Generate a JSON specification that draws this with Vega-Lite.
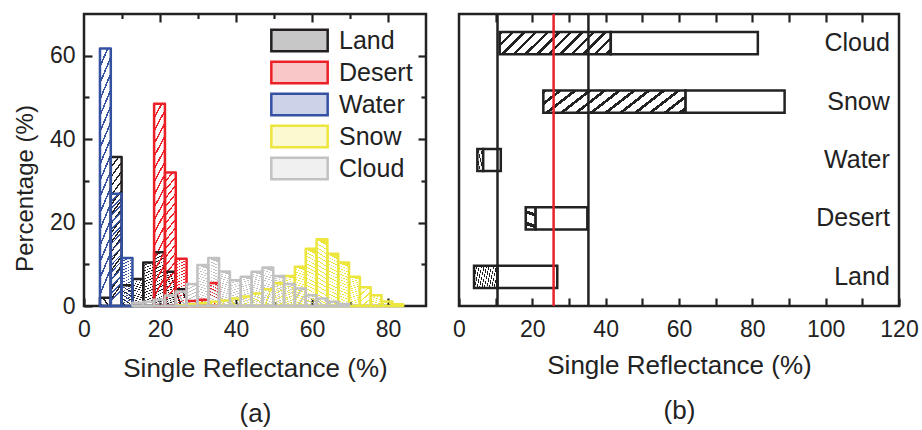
{
 "$schema": "https://vega.github.io/schema/vega-lite/v6.json",
 "background": "white",
 "padding": {"left": 12, "top": 11, "right": 2, "bottom": 2},
 "config": {
  "font": "Liberation Sans",
  "view": {"stroke": "#222222", "strokeWidth": 2.5},
  "axis": {"domain": false, "grid": false, "labelFont": "Liberation Sans", "labelFontSize": 23, "labelColor": "#222222", "titleFont": "Liberation Sans", "titleFontSize": 26, "titleFontWeight": "normal", "titleColor": "#222222", "tickColor": "#222222", "tickWidth": 2.2, "labelFlush": false, "labelOverlap": false}
 },
 "datasets": {
  "hist": [
   {"series": "Land", "x0": 4.2, "x1": 7.05, "pct": 2},
   {"series": "Land", "x0": 7.05, "x1": 9.9, "pct": 35.7},
   {"series": "Land", "x0": 9.9, "x1": 12.75, "pct": 5},
   {"series": "Land", "x0": 12.75, "x1": 15.6, "pct": 6.5},
   {"series": "Land", "x0": 15.6, "x1": 18.45, "pct": 10.4},
   {"series": "Land", "x0": 18.45, "x1": 21.3, "pct": 12.9},
   {"series": "Land", "x0": 21.3, "x1": 24.15, "pct": 8.2},
   {"series": "Land", "x0": 24.15, "x1": 27.0, "pct": 4},
   {"series": "Desert", "x0": 18.45, "x1": 21.3, "pct": 48.5},
   {"series": "Desert", "x0": 21.3, "x1": 24.15, "pct": 32},
   {"series": "Desert", "x0": 24.15, "x1": 27.0, "pct": 11.3},
   {"series": "Desert", "x0": 27.0, "x1": 29.85, "pct": 1.2},
   {"series": "Desert", "x0": 29.85, "x1": 32.7, "pct": 1.5},
   {"series": "Desert", "x0": 32.7, "x1": 35.55, "pct": 5.5},
   {"series": "Water", "x0": 4.2, "x1": 7.05, "pct": 61.7},
   {"series": "Water", "x0": 7.05, "x1": 9.9, "pct": 26.9},
   {"series": "Water", "x0": 9.9, "x1": 12.75, "pct": 11.5},
   {"series": "Snow", "x0": 24.15, "x1": 27.0, "pct": 0.2},
   {"series": "Snow", "x0": 27.0, "x1": 29.85, "pct": 0.4},
   {"series": "Snow", "x0": 29.85, "x1": 32.7, "pct": 0.7},
   {"series": "Snow", "x0": 32.7, "x1": 35.55, "pct": 1.0},
   {"series": "Snow", "x0": 35.55, "x1": 38.4, "pct": 1.3},
   {"series": "Snow", "x0": 38.4, "x1": 41.25, "pct": 1.8},
   {"series": "Snow", "x0": 41.25, "x1": 44.1, "pct": 2.3},
   {"series": "Snow", "x0": 44.1, "x1": 46.95, "pct": 3.0},
   {"series": "Snow", "x0": 46.95, "x1": 49.8, "pct": 4.0},
   {"series": "Snow", "x0": 49.8, "x1": 52.65, "pct": 5.5},
   {"series": "Snow", "x0": 52.65, "x1": 55.5, "pct": 7.2},
   {"series": "Snow", "x0": 55.5, "x1": 58.35, "pct": 9.4},
   {"series": "Snow", "x0": 58.35, "x1": 61.2, "pct": 13.7},
   {"series": "Snow", "x0": 61.2, "x1": 64.05, "pct": 16.0},
   {"series": "Snow", "x0": 64.05, "x1": 66.9, "pct": 12.5},
   {"series": "Snow", "x0": 66.9, "x1": 69.75, "pct": 10.4},
   {"series": "Snow", "x0": 69.75, "x1": 72.6, "pct": 7.0},
   {"series": "Snow", "x0": 72.6, "x1": 75.45, "pct": 4.5},
   {"series": "Snow", "x0": 75.45, "x1": 78.3, "pct": 2.6},
   {"series": "Snow", "x0": 78.3, "x1": 81.15, "pct": 1.1},
   {"series": "Snow", "x0": 81.15, "x1": 84.0, "pct": 0.4},
   {"series": "Cloud", "x0": 12.75, "x1": 15.6, "pct": 0.8},
   {"series": "Cloud", "x0": 15.6, "x1": 18.45, "pct": 1.0},
   {"series": "Cloud", "x0": 18.45, "x1": 21.3, "pct": 1.5},
   {"series": "Cloud", "x0": 21.3, "x1": 24.15, "pct": 2.5},
   {"series": "Cloud", "x0": 24.15, "x1": 27.0, "pct": 3.5},
   {"series": "Cloud", "x0": 27.0, "x1": 29.85, "pct": 5.3},
   {"series": "Cloud", "x0": 29.85, "x1": 32.7, "pct": 9.8},
   {"series": "Cloud", "x0": 32.7, "x1": 35.55, "pct": 11.5},
   {"series": "Cloud", "x0": 35.55, "x1": 38.4, "pct": 8.3},
   {"series": "Cloud", "x0": 38.4, "x1": 41.25, "pct": 6.2},
   {"series": "Cloud", "x0": 41.25, "x1": 44.1, "pct": 7.0},
   {"series": "Cloud", "x0": 44.1, "x1": 46.95, "pct": 8.2},
   {"series": "Cloud", "x0": 46.95, "x1": 49.8, "pct": 9.2},
   {"series": "Cloud", "x0": 49.8, "x1": 52.65, "pct": 7.2},
   {"series": "Cloud", "x0": 52.65, "x1": 55.5, "pct": 5.3},
   {"series": "Cloud", "x0": 55.5, "x1": 58.35, "pct": 4.2},
   {"series": "Cloud", "x0": 58.35, "x1": 61.2, "pct": 2.6},
   {"series": "Cloud", "x0": 61.2, "x1": 64.05, "pct": 1.8},
   {"series": "Cloud", "x0": 64.05, "x1": 66.9, "pct": 1.0},
   {"series": "Cloud", "x0": 66.9, "x1": 69.75, "pct": 0.5}
  ],
  "ranges": [
   {"cat": "Cloud", "part": "hatched", "lo": 11.1, "hi": 41.4},
   {"cat": "Cloud", "part": "open", "lo": 41.4, "hi": 81.5},
   {"cat": "Snow", "part": "hatched", "lo": 23.0, "hi": 61.8},
   {"cat": "Snow", "part": "open", "lo": 61.8, "hi": 88.8},
   {"cat": "Water", "part": "hatched", "lo": 5.0, "hi": 6.6},
   {"cat": "Water", "part": "open", "lo": 6.6, "hi": 11.4},
   {"cat": "Desert", "part": "hatched", "lo": 18.2, "hi": 20.9},
   {"cat": "Desert", "part": "open", "lo": 20.9, "hi": 35.0},
   {"cat": "Land", "part": "hatched", "lo": 4.1, "hi": 10.5},
   {"cat": "Land", "part": "open", "lo": 10.5, "hi": 26.8}
  ],
  "lines": [
   {"val": 10.5, "kind": "bound"},
   {"val": 35.3, "kind": "bound"},
   {"val": 25.8, "kind": "threshold"}
  ],
  "cats": [
   {"cat": "Cloud"}, {"cat": "Snow"}, {"cat": "Water"}, {"cat": "Desert"}, {"cat": "Land"}
  ]
 },
 "spacing": 22,
 "resolve": {"scale": {"fill": "independent", "stroke": "independent"}, "legend": {"fill": "independent", "stroke": "independent"}},
 "hconcat": [
  {
   "width": 342,
   "height": 292,
   "resolve": {"axis": {"x": "independent", "y": "independent"}},
   "layer": [
    {
     "data": {"name": "hist"},
     "transform": [{"filter": "datum.series === 'Land'"}],
     "mark": {"type": "bar", "strokeWidth": 0, "fill": {"gradient": "linear", "x1": 0, "y1": 0, "x2": 0.1, "y2": 1, "stops": [
      {"offset": 0, "color": "#231f20"}, {"offset": 0.015, "color": "#231f20"}, {"offset": 0.015, "color": "transparent"}, {"offset": 0.0625, "color": "transparent"},
      {"offset": 0.0625, "color": "#231f20"}, {"offset": 0.0775, "color": "#231f20"}, {"offset": 0.0775, "color": "transparent"}, {"offset": 0.125, "color": "transparent"},
      {"offset": 0.125, "color": "#231f20"}, {"offset": 0.14, "color": "#231f20"}, {"offset": 0.14, "color": "transparent"}, {"offset": 0.1875, "color": "transparent"},
      {"offset": 0.1875, "color": "#231f20"}, {"offset": 0.2025, "color": "#231f20"}, {"offset": 0.2025, "color": "transparent"}, {"offset": 0.25, "color": "transparent"},
      {"offset": 0.25, "color": "#231f20"}, {"offset": 0.265, "color": "#231f20"}, {"offset": 0.265, "color": "transparent"}, {"offset": 0.3125, "color": "transparent"},
      {"offset": 0.3125, "color": "#231f20"}, {"offset": 0.3275, "color": "#231f20"}, {"offset": 0.3275, "color": "transparent"}, {"offset": 0.375, "color": "transparent"},
      {"offset": 0.375, "color": "#231f20"}, {"offset": 0.39, "color": "#231f20"}, {"offset": 0.39, "color": "transparent"}, {"offset": 0.4375, "color": "transparent"},
      {"offset": 0.4375, "color": "#231f20"}, {"offset": 0.4525, "color": "#231f20"}, {"offset": 0.4525, "color": "transparent"}, {"offset": 0.5, "color": "transparent"},
      {"offset": 0.5, "color": "#231f20"}, {"offset": 0.515, "color": "#231f20"}, {"offset": 0.515, "color": "transparent"}, {"offset": 0.5625, "color": "transparent"},
      {"offset": 0.5625, "color": "#231f20"}, {"offset": 0.5775, "color": "#231f20"}, {"offset": 0.5775, "color": "transparent"}, {"offset": 0.625, "color": "transparent"},
      {"offset": 0.625, "color": "#231f20"}, {"offset": 0.64, "color": "#231f20"}, {"offset": 0.64, "color": "transparent"}, {"offset": 0.6875, "color": "transparent"},
      {"offset": 0.6875, "color": "#231f20"}, {"offset": 0.7025, "color": "#231f20"}, {"offset": 0.7025, "color": "transparent"}, {"offset": 0.75, "color": "transparent"},
      {"offset": 0.75, "color": "#231f20"}, {"offset": 0.765, "color": "#231f20"}, {"offset": 0.765, "color": "transparent"}, {"offset": 0.8125, "color": "transparent"},
      {"offset": 0.8125, "color": "#231f20"}, {"offset": 0.8275, "color": "#231f20"}, {"offset": 0.8275, "color": "transparent"}, {"offset": 0.875, "color": "transparent"},
      {"offset": 0.875, "color": "#231f20"}, {"offset": 0.89, "color": "#231f20"}, {"offset": 0.89, "color": "transparent"}, {"offset": 0.9375, "color": "transparent"},
      {"offset": 0.9375, "color": "#231f20"}, {"offset": 0.9525, "color": "#231f20"}, {"offset": 0.9525, "color": "transparent"}, {"offset": 1, "color": "transparent"}
     ]}},
     "encoding": {
      "x": {"field": "x0", "type": "quantitative", "scale": {"domain": [0, 90], "nice": false, "zero": false}, "axis": null},
      "x2": {"field": "x1"},
      "y": {"field": "pct", "type": "quantitative", "stack": null, "scale": {"domain": [0, 70], "nice": false}, "axis": null},
      "y2": {"datum": 0}
     }
    },
    {
     "data": {"name": "hist"},
     "transform": [{"filter": "datum.series === 'Desert'"}],
     "mark": {"type": "bar", "strokeWidth": 0, "fill": {"gradient": "linear", "x1": 0, "y1": 0, "x2": 0.1, "y2": 1, "stops": [
      {"offset": 0, "color": "#ec2027"}, {"offset": 0.015, "color": "#ec2027"}, {"offset": 0.015, "color": "transparent"}, {"offset": 0.0625, "color": "transparent"},
      {"offset": 0.0625, "color": "#ec2027"}, {"offset": 0.0775, "color": "#ec2027"}, {"offset": 0.0775, "color": "transparent"}, {"offset": 0.125, "color": "transparent"},
      {"offset": 0.125, "color": "#ec2027"}, {"offset": 0.14, "color": "#ec2027"}, {"offset": 0.14, "color": "transparent"}, {"offset": 0.1875, "color": "transparent"},
      {"offset": 0.1875, "color": "#ec2027"}, {"offset": 0.2025, "color": "#ec2027"}, {"offset": 0.2025, "color": "transparent"}, {"offset": 0.25, "color": "transparent"},
      {"offset": 0.25, "color": "#ec2027"}, {"offset": 0.265, "color": "#ec2027"}, {"offset": 0.265, "color": "transparent"}, {"offset": 0.3125, "color": "transparent"},
      {"offset": 0.3125, "color": "#ec2027"}, {"offset": 0.3275, "color": "#ec2027"}, {"offset": 0.3275, "color": "transparent"}, {"offset": 0.375, "color": "transparent"},
      {"offset": 0.375, "color": "#ec2027"}, {"offset": 0.39, "color": "#ec2027"}, {"offset": 0.39, "color": "transparent"}, {"offset": 0.4375, "color": "transparent"},
      {"offset": 0.4375, "color": "#ec2027"}, {"offset": 0.4525, "color": "#ec2027"}, {"offset": 0.4525, "color": "transparent"}, {"offset": 0.5, "color": "transparent"},
      {"offset": 0.5, "color": "#ec2027"}, {"offset": 0.515, "color": "#ec2027"}, {"offset": 0.515, "color": "transparent"}, {"offset": 0.5625, "color": "transparent"},
      {"offset": 0.5625, "color": "#ec2027"}, {"offset": 0.5775, "color": "#ec2027"}, {"offset": 0.5775, "color": "transparent"}, {"offset": 0.625, "color": "transparent"},
      {"offset": 0.625, "color": "#ec2027"}, {"offset": 0.64, "color": "#ec2027"}, {"offset": 0.64, "color": "transparent"}, {"offset": 0.6875, "color": "transparent"},
      {"offset": 0.6875, "color": "#ec2027"}, {"offset": 0.7025, "color": "#ec2027"}, {"offset": 0.7025, "color": "transparent"}, {"offset": 0.75, "color": "transparent"},
      {"offset": 0.75, "color": "#ec2027"}, {"offset": 0.765, "color": "#ec2027"}, {"offset": 0.765, "color": "transparent"}, {"offset": 0.8125, "color": "transparent"},
      {"offset": 0.8125, "color": "#ec2027"}, {"offset": 0.8275, "color": "#ec2027"}, {"offset": 0.8275, "color": "transparent"}, {"offset": 0.875, "color": "transparent"},
      {"offset": 0.875, "color": "#ec2027"}, {"offset": 0.89, "color": "#ec2027"}, {"offset": 0.89, "color": "transparent"}, {"offset": 0.9375, "color": "transparent"},
      {"offset": 0.9375, "color": "#ec2027"}, {"offset": 0.9525, "color": "#ec2027"}, {"offset": 0.9525, "color": "transparent"}, {"offset": 1, "color": "transparent"}
     ]}},
     "encoding": {
      "x": {"field": "x0", "type": "quantitative", "scale": {"domain": [0, 90], "nice": false, "zero": false}, "axis": null},
      "x2": {"field": "x1"},
      "y": {"field": "pct", "type": "quantitative", "stack": null, "scale": {"domain": [0, 70], "nice": false}, "axis": null},
      "y2": {"datum": 0}
     }
    },
    {
     "data": {"name": "hist"},
     "transform": [{"filter": "datum.series === 'Water'"}],
     "mark": {"type": "bar", "strokeWidth": 0, "fill": {"gradient": "linear", "x1": 0, "y1": 0, "x2": 0.1, "y2": 1, "stops": [
      {"offset": 0, "color": "#3451a2"}, {"offset": 0.015, "color": "#3451a2"}, {"offset": 0.015, "color": "transparent"}, {"offset": 0.0625, "color": "transparent"},
      {"offset": 0.0625, "color": "#3451a2"}, {"offset": 0.0775, "color": "#3451a2"}, {"offset": 0.0775, "color": "transparent"}, {"offset": 0.125, "color": "transparent"},
      {"offset": 0.125, "color": "#3451a2"}, {"offset": 0.14, "color": "#3451a2"}, {"offset": 0.14, "color": "transparent"}, {"offset": 0.1875, "color": "transparent"},
      {"offset": 0.1875, "color": "#3451a2"}, {"offset": 0.2025, "color": "#3451a2"}, {"offset": 0.2025, "color": "transparent"}, {"offset": 0.25, "color": "transparent"},
      {"offset": 0.25, "color": "#3451a2"}, {"offset": 0.265, "color": "#3451a2"}, {"offset": 0.265, "color": "transparent"}, {"offset": 0.3125, "color": "transparent"},
      {"offset": 0.3125, "color": "#3451a2"}, {"offset": 0.3275, "color": "#3451a2"}, {"offset": 0.3275, "color": "transparent"}, {"offset": 0.375, "color": "transparent"},
      {"offset": 0.375, "color": "#3451a2"}, {"offset": 0.39, "color": "#3451a2"}, {"offset": 0.39, "color": "transparent"}, {"offset": 0.4375, "color": "transparent"},
      {"offset": 0.4375, "color": "#3451a2"}, {"offset": 0.4525, "color": "#3451a2"}, {"offset": 0.4525, "color": "transparent"}, {"offset": 0.5, "color": "transparent"},
      {"offset": 0.5, "color": "#3451a2"}, {"offset": 0.515, "color": "#3451a2"}, {"offset": 0.515, "color": "transparent"}, {"offset": 0.5625, "color": "transparent"},
      {"offset": 0.5625, "color": "#3451a2"}, {"offset": 0.5775, "color": "#3451a2"}, {"offset": 0.5775, "color": "transparent"}, {"offset": 0.625, "color": "transparent"},
      {"offset": 0.625, "color": "#3451a2"}, {"offset": 0.64, "color": "#3451a2"}, {"offset": 0.64, "color": "transparent"}, {"offset": 0.6875, "color": "transparent"},
      {"offset": 0.6875, "color": "#3451a2"}, {"offset": 0.7025, "color": "#3451a2"}, {"offset": 0.7025, "color": "transparent"}, {"offset": 0.75, "color": "transparent"},
      {"offset": 0.75, "color": "#3451a2"}, {"offset": 0.765, "color": "#3451a2"}, {"offset": 0.765, "color": "transparent"}, {"offset": 0.8125, "color": "transparent"},
      {"offset": 0.8125, "color": "#3451a2"}, {"offset": 0.8275, "color": "#3451a2"}, {"offset": 0.8275, "color": "transparent"}, {"offset": 0.875, "color": "transparent"},
      {"offset": 0.875, "color": "#3451a2"}, {"offset": 0.89, "color": "#3451a2"}, {"offset": 0.89, "color": "transparent"}, {"offset": 0.9375, "color": "transparent"},
      {"offset": 0.9375, "color": "#3451a2"}, {"offset": 0.9525, "color": "#3451a2"}, {"offset": 0.9525, "color": "transparent"}, {"offset": 1, "color": "transparent"}
     ]}},
     "encoding": {
      "x": {"field": "x0", "type": "quantitative", "scale": {"domain": [0, 90], "nice": false, "zero": false}, "axis": null},
      "x2": {"field": "x1"},
      "y": {"field": "pct", "type": "quantitative", "stack": null, "scale": {"domain": [0, 70], "nice": false}, "axis": null},
      "y2": {"datum": 0}
     }
    },
    {
     "data": {"name": "hist"},
     "transform": [{"filter": "datum.series === 'Snow'"}],
     "mark": {"type": "bar", "strokeWidth": 0, "fill": {"gradient": "linear", "x1": 0.1, "y1": 0, "x2": 0, "y2": 1, "stops": [
      {"offset": 0, "color": "#ece63f"}, {"offset": 0.015, "color": "#ece63f"}, {"offset": 0.015, "color": "transparent"}, {"offset": 0.0625, "color": "transparent"},
      {"offset": 0.0625, "color": "#ece63f"}, {"offset": 0.0775, "color": "#ece63f"}, {"offset": 0.0775, "color": "transparent"}, {"offset": 0.125, "color": "transparent"},
      {"offset": 0.125, "color": "#ece63f"}, {"offset": 0.14, "color": "#ece63f"}, {"offset": 0.14, "color": "transparent"}, {"offset": 0.1875, "color": "transparent"},
      {"offset": 0.1875, "color": "#ece63f"}, {"offset": 0.2025, "color": "#ece63f"}, {"offset": 0.2025, "color": "transparent"}, {"offset": 0.25, "color": "transparent"},
      {"offset": 0.25, "color": "#ece63f"}, {"offset": 0.265, "color": "#ece63f"}, {"offset": 0.265, "color": "transparent"}, {"offset": 0.3125, "color": "transparent"},
      {"offset": 0.3125, "color": "#ece63f"}, {"offset": 0.3275, "color": "#ece63f"}, {"offset": 0.3275, "color": "transparent"}, {"offset": 0.375, "color": "transparent"},
      {"offset": 0.375, "color": "#ece63f"}, {"offset": 0.39, "color": "#ece63f"}, {"offset": 0.39, "color": "transparent"}, {"offset": 0.4375, "color": "transparent"},
      {"offset": 0.4375, "color": "#ece63f"}, {"offset": 0.4525, "color": "#ece63f"}, {"offset": 0.4525, "color": "transparent"}, {"offset": 0.5, "color": "transparent"},
      {"offset": 0.5, "color": "#ece63f"}, {"offset": 0.515, "color": "#ece63f"}, {"offset": 0.515, "color": "transparent"}, {"offset": 0.5625, "color": "transparent"},
      {"offset": 0.5625, "color": "#ece63f"}, {"offset": 0.5775, "color": "#ece63f"}, {"offset": 0.5775, "color": "transparent"}, {"offset": 0.625, "color": "transparent"},
      {"offset": 0.625, "color": "#ece63f"}, {"offset": 0.64, "color": "#ece63f"}, {"offset": 0.64, "color": "transparent"}, {"offset": 0.6875, "color": "transparent"},
      {"offset": 0.6875, "color": "#ece63f"}, {"offset": 0.7025, "color": "#ece63f"}, {"offset": 0.7025, "color": "transparent"}, {"offset": 0.75, "color": "transparent"},
      {"offset": 0.75, "color": "#ece63f"}, {"offset": 0.765, "color": "#ece63f"}, {"offset": 0.765, "color": "transparent"}, {"offset": 0.8125, "color": "transparent"},
      {"offset": 0.8125, "color": "#ece63f"}, {"offset": 0.8275, "color": "#ece63f"}, {"offset": 0.8275, "color": "transparent"}, {"offset": 0.875, "color": "transparent"},
      {"offset": 0.875, "color": "#ece63f"}, {"offset": 0.89, "color": "#ece63f"}, {"offset": 0.89, "color": "transparent"}, {"offset": 0.9375, "color": "transparent"},
      {"offset": 0.9375, "color": "#ece63f"}, {"offset": 0.9525, "color": "#ece63f"}, {"offset": 0.9525, "color": "transparent"}, {"offset": 1, "color": "transparent"}
     ]}},
     "encoding": {
      "x": {"field": "x0", "type": "quantitative", "scale": {"domain": [0, 90], "nice": false, "zero": false}, "axis": null},
      "x2": {"field": "x1"},
      "y": {"field": "pct", "type": "quantitative", "stack": null, "scale": {"domain": [0, 70], "nice": false}, "axis": null},
      "y2": {"datum": 0}
     }
    },
    {
     "data": {"name": "hist"},
     "transform": [{"filter": "datum.series === 'Cloud'"}],
     "mark": {"type": "bar", "strokeWidth": 0, "fill": {"gradient": "linear", "x1": 0.1, "y1": 0, "x2": 0, "y2": 1, "stops": [
      {"offset": 0, "color": "#c2c2c2"}, {"offset": 0.015, "color": "#c2c2c2"}, {"offset": 0.015, "color": "transparent"}, {"offset": 0.0625, "color": "transparent"},
      {"offset": 0.0625, "color": "#c2c2c2"}, {"offset": 0.0775, "color": "#c2c2c2"}, {"offset": 0.0775, "color": "transparent"}, {"offset": 0.125, "color": "transparent"},
      {"offset": 0.125, "color": "#c2c2c2"}, {"offset": 0.14, "color": "#c2c2c2"}, {"offset": 0.14, "color": "transparent"}, {"offset": 0.1875, "color": "transparent"},
      {"offset": 0.1875, "color": "#c2c2c2"}, {"offset": 0.2025, "color": "#c2c2c2"}, {"offset": 0.2025, "color": "transparent"}, {"offset": 0.25, "color": "transparent"},
      {"offset": 0.25, "color": "#c2c2c2"}, {"offset": 0.265, "color": "#c2c2c2"}, {"offset": 0.265, "color": "transparent"}, {"offset": 0.3125, "color": "transparent"},
      {"offset": 0.3125, "color": "#c2c2c2"}, {"offset": 0.3275, "color": "#c2c2c2"}, {"offset": 0.3275, "color": "transparent"}, {"offset": 0.375, "color": "transparent"},
      {"offset": 0.375, "color": "#c2c2c2"}, {"offset": 0.39, "color": "#c2c2c2"}, {"offset": 0.39, "color": "transparent"}, {"offset": 0.4375, "color": "transparent"},
      {"offset": 0.4375, "color": "#c2c2c2"}, {"offset": 0.4525, "color": "#c2c2c2"}, {"offset": 0.4525, "color": "transparent"}, {"offset": 0.5, "color": "transparent"},
      {"offset": 0.5, "color": "#c2c2c2"}, {"offset": 0.515, "color": "#c2c2c2"}, {"offset": 0.515, "color": "transparent"}, {"offset": 0.5625, "color": "transparent"},
      {"offset": 0.5625, "color": "#c2c2c2"}, {"offset": 0.5775, "color": "#c2c2c2"}, {"offset": 0.5775, "color": "transparent"}, {"offset": 0.625, "color": "transparent"},
      {"offset": 0.625, "color": "#c2c2c2"}, {"offset": 0.64, "color": "#c2c2c2"}, {"offset": 0.64, "color": "transparent"}, {"offset": 0.6875, "color": "transparent"},
      {"offset": 0.6875, "color": "#c2c2c2"}, {"offset": 0.7025, "color": "#c2c2c2"}, {"offset": 0.7025, "color": "transparent"}, {"offset": 0.75, "color": "transparent"},
      {"offset": 0.75, "color": "#c2c2c2"}, {"offset": 0.765, "color": "#c2c2c2"}, {"offset": 0.765, "color": "transparent"}, {"offset": 0.8125, "color": "transparent"},
      {"offset": 0.8125, "color": "#c2c2c2"}, {"offset": 0.8275, "color": "#c2c2c2"}, {"offset": 0.8275, "color": "transparent"}, {"offset": 0.875, "color": "transparent"},
      {"offset": 0.875, "color": "#c2c2c2"}, {"offset": 0.89, "color": "#c2c2c2"}, {"offset": 0.89, "color": "transparent"}, {"offset": 0.9375, "color": "transparent"},
      {"offset": 0.9375, "color": "#c2c2c2"}, {"offset": 0.9525, "color": "#c2c2c2"}, {"offset": 0.9525, "color": "transparent"}, {"offset": 1, "color": "transparent"}
     ]}},
     "encoding": {
      "x": {"field": "x0", "type": "quantitative", "scale": {"domain": [0, 90], "nice": false, "zero": false}, "axis": null},
      "x2": {"field": "x1"},
      "y": {"field": "pct", "type": "quantitative", "stack": null, "scale": {"domain": [0, 70], "nice": false}, "axis": null},
      "y2": {"datum": 0}
     }
    },
    {
     "data": {"name": "hist"},
     "mark": {"type": "bar", "fillOpacity": 0, "strokeWidth": 2.5, "strokeJoin": "round"},
     "encoding": {
      "x": {"field": "x0", "type": "quantitative", "scale": {"domain": [0, 90], "nice": false, "zero": false},
       "axis": {"orient": "bottom", "values": [0, 10, 20, 30, 40, 50, 60, 70, 80], "labelExpr": "datum.value % 20 === 0 ? datum.label : ''",
        "tickSize": {"condition": {"test": "datum.value % 20 === 0", "value": -8}, "value": -4.5},
        "labelPadding": 20, "title": ["Single Reflectance (%)", "(a)"], "titleLineHeight": 45, "titlePadding": 11}},
      "x2": {"field": "x1"},
      "y": {"field": "pct", "type": "quantitative", "stack": null, "scale": {"domain": [0, 70], "nice": false},
       "axis": {"orient": "left", "values": [0, 10, 20, 30, 40, 50, 60], "labelExpr": "datum.value % 20 === 0 ? datum.label : ''",
        "tickSize": {"condition": {"test": "datum.value % 20 === 0", "value": -8}, "value": -5},
        "labelPadding": 17, "title": "Percentage (%)", "titlePadding": 12, "titleY": 174, "titleFontSize": 24}},
      "y2": {"datum": 0},
      "fill": {"field": "series", "type": "nominal",
       "scale": {"domain": ["Land", "Desert", "Water", "Snow", "Cloud"], "range": ["#231f20", "#ec2027", "#3451a2", "#ece63f", "#c2c2c2"]},
       "legend": {"title": null, "orient": "none", "legendX": 203, "legendY": 14, "symbolType": "M-2.6,-1H2.6V1H-2.6Z", "symbolSize": 470, "symbolStrokeWidth": 2.5, "labelFontSize": 25, "labelFont": "Liberation Sans", "labelColor": "#222222", "labelOffset": 27, "rowPadding": -1, "labelLimit": 300, "encode": {"symbols": {"update": {"fillOpacity": {"value": 0.25}}}}}},
      "stroke": {"field": "series", "type": "nominal",
       "scale": {"domain": ["Land", "Desert", "Water", "Snow", "Cloud"], "range": ["#231f20", "#ec2027", "#3451a2", "#ece63f", "#c2c2c2"]},
       "legend": {"title": null, "orient": "none", "legendX": 203, "legendY": 14, "symbolType": "M-2.6,-1H2.6V1H-2.6Z", "symbolSize": 470, "symbolStrokeWidth": 2.5, "labelFontSize": 25, "labelFont": "Liberation Sans", "labelColor": "#222222", "labelOffset": 27, "rowPadding": -1, "labelLimit": 300, "encode": {"symbols": {"update": {"fillOpacity": {"value": 0.25}}}}}}
     }
    },
    {
     "data": {"name": "hist"},
     "mark": {"type": "bar", "opacity": 0},
     "encoding": {
      "x": {"field": "x0", "type": "quantitative", "scale": {"domain": [0, 90], "nice": false, "zero": false},
       "axis": {"orient": "top", "values": [10, 20, 30, 40, 50, 60, 70, 80], "labels": false, "title": null,
        "tickSize": {"condition": {"test": "datum.value % 20 === 0", "value": -8}, "value": -4.5}}},
      "x2": {"field": "x1"},
      "y": {"field": "pct", "type": "quantitative", "stack": null, "scale": {"domain": [0, 70], "nice": false},
       "axis": {"orient": "right", "values": [10, 20, 30, 40, 50, 60], "labels": false, "title": null,
        "tickSize": {"condition": {"test": "datum.value % 20 === 0", "value": -8}, "value": -5}}},
      "y2": {"datum": 0}
     }
    }
   ]
  },
  {
   "width": 440,
   "height": 292,
   "resolve": {"axis": {"x": "independent"}},
   "layer": [
    {
     "data": {"name": "ranges"},
     "mark": {"type": "bar", "stroke": "#222222", "strokeWidth": 2.5},
     "encoding": {
      "x": {"field": "lo", "type": "quantitative", "scale": {"domain": [0, 120], "nice": false, "zero": false},
       "axis": {"orient": "bottom", "values": [0, 10, 20, 30, 40, 50, 60, 70, 80, 90, 100, 110, 120], "labelExpr": "datum.value % 20 === 0 ? datum.label : ''",
        "tickSize": -8, "labelPadding": 20, "title": ["Single Reflectance (%)", "(b)"], "titleLineHeight": 45, "titlePadding": 11}},
      "x2": {"field": "hi"},
      "y": {"field": "cat", "type": "nominal", "scale": {"domain": ["Cloud", "Snow", "Water", "Desert", "Land"], "paddingInner": 0.62, "paddingOuter": 0.31}, "axis": null},
      "fill": {"condition": {"test": "datum.part === 'hatched'", "value": {"gradient": "linear", "x1": 0, "y1": 0, "x2": 1.2, "y2": 0.24, "stops": [
       {"offset": 0, "color": "#222222"}, {"offset": 0.025, "color": "#222222"}, {"offset": 0.025, "color": "#ffffff"}, {"offset": 0.0833, "color": "#ffffff"},
       {"offset": 0.0833, "color": "#222222"}, {"offset": 0.1083, "color": "#222222"}, {"offset": 0.1083, "color": "#ffffff"}, {"offset": 0.1667, "color": "#ffffff"},
       {"offset": 0.1667, "color": "#222222"}, {"offset": 0.1917, "color": "#222222"}, {"offset": 0.1917, "color": "#ffffff"}, {"offset": 0.25, "color": "#ffffff"},
       {"offset": 0.25, "color": "#222222"}, {"offset": 0.275, "color": "#222222"}, {"offset": 0.275, "color": "#ffffff"}, {"offset": 0.3333, "color": "#ffffff"},
       {"offset": 0.3333, "color": "#222222"}, {"offset": 0.3583, "color": "#222222"}, {"offset": 0.3583, "color": "#ffffff"}, {"offset": 0.4167, "color": "#ffffff"},
       {"offset": 0.4167, "color": "#222222"}, {"offset": 0.4417, "color": "#222222"}, {"offset": 0.4417, "color": "#ffffff"}, {"offset": 0.5, "color": "#ffffff"},
       {"offset": 0.5, "color": "#222222"}, {"offset": 0.525, "color": "#222222"}, {"offset": 0.525, "color": "#ffffff"}, {"offset": 0.5833, "color": "#ffffff"},
       {"offset": 0.5833, "color": "#222222"}, {"offset": 0.6083, "color": "#222222"}, {"offset": 0.6083, "color": "#ffffff"}, {"offset": 0.6667, "color": "#ffffff"},
       {"offset": 0.6667, "color": "#222222"}, {"offset": 0.6917, "color": "#222222"}, {"offset": 0.6917, "color": "#ffffff"}, {"offset": 0.75, "color": "#ffffff"},
       {"offset": 0.75, "color": "#222222"}, {"offset": 0.775, "color": "#222222"}, {"offset": 0.775, "color": "#ffffff"}, {"offset": 0.8333, "color": "#ffffff"},
       {"offset": 0.8333, "color": "#222222"}, {"offset": 0.8583, "color": "#222222"}, {"offset": 0.8583, "color": "#ffffff"}, {"offset": 0.9167, "color": "#ffffff"},
       {"offset": 0.9167, "color": "#222222"}, {"offset": 0.9417, "color": "#222222"}, {"offset": 0.9417, "color": "#ffffff"}, {"offset": 1, "color": "#ffffff"}
      ]}}, "value": "#ffffff"}
     }
    },
    {
     "data": {"name": "lines"},
     "mark": {"type": "rule", "strokeWidth": 2.5},
     "encoding": {
      "x": {"field": "val", "type": "quantitative", "scale": {"domain": [0, 120], "nice": false, "zero": false},
       "axis": {"orient": "top", "values": [10, 20, 30, 40, 50, 60, 70, 80, 90, 100, 110], "labels": false, "title": null, "tickSize": -8}},
      "stroke": {"condition": {"test": "datum.kind === 'threshold'", "value": "#e8222a"}, "value": "#222222"}
     }
    },
    {
     "data": {"name": "cats"},
     "mark": {"type": "text", "align": "right", "baseline": "middle", "fontSize": 25, "font": "Liberation Sans", "color": "#222222"},
     "encoding": {
      "x": {"datum": 117.5, "type": "quantitative", "axis": null},
      "y": {"field": "cat", "type": "nominal", "axis": null},
      "text": {"field": "cat"}
     }
    }
   ]
  }
 ]
}
